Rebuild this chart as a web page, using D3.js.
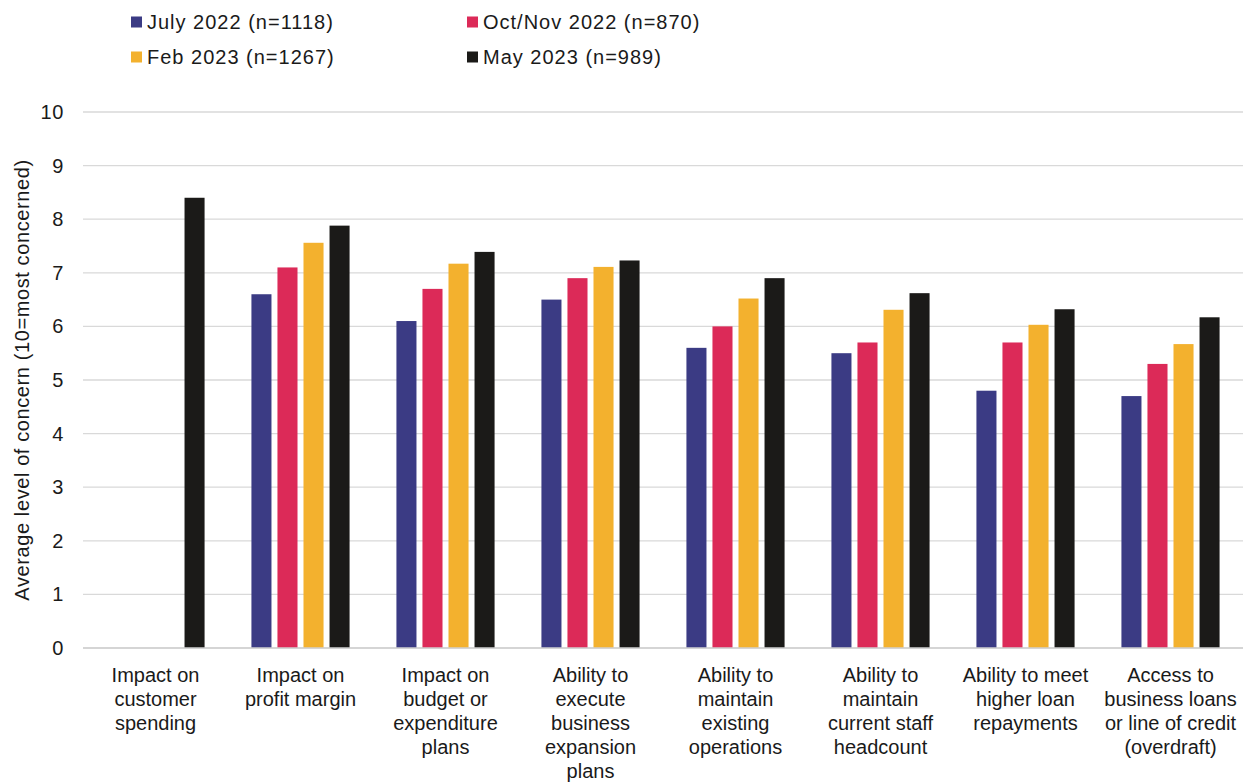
<!DOCTYPE html>
<html>
<head>
<meta charset="utf-8">
<script src="https://cdn.jsdelivr.net/npm/d3@7"></script>
<style>
  html, body { margin: 0; padding: 0; background: #fff; }
  svg text { font-family: "Liberation Sans", Arial, sans-serif; fill: #1a1a1a; }
</style>
</head>
<body>
<svg id="chart" width="1248" height="782"></svg>
<script>
// Concern categories (label lines as wrapped under the axis)
const categories = [
  ["Impact on", "customer", "spending"],
  ["Impact on", "profit margin"],
  ["Impact on", "budget or", "expenditure", "plans"],
  ["Ability to", "execute", "business", "expansion", "plans"],
  ["Ability to", "maintain", "existing", "operations"],
  ["Ability to", "maintain", "current staff", "headcount"],
  ["Ability to meet", "higher loan", "repayments"],
  ["Access to", "business loans", "or line of credit", "(overdraft)"]
];

const seriesNames = ["July 2022 (n=1118)", "Oct/Nov 2022 (n=870)", "Feb 2023 (n=1267)", "May 2023 (n=989)"];
const seriesColors = ["#3b3b84", "#dc2a58", "#f3b12e", "#1b1a18"];

// Average level of concern per wave (null = not asked)
const july2022 = [null, 6.6, 6.1, 6.5, 5.6, 5.5, 4.8, 4.7];
const octNov2022 = [null, 7.1, 6.7, 6.9, 6.0, 5.7, 5.7, 5.3];
const feb2023 = [null, 7.56, 7.17, 7.11, 6.52, 6.31, 6.03, 5.67];
const may2023 = [8.4, 7.88, 7.39, 7.23, 6.9, 6.62, 6.32, 6.17];

const yTicks = [0, 1, 2, 3, 4, 5, 6, 7, 8, 9, 10];

const seriesValues = [july2022, octNov2022, feb2023, may2023];

const svg = d3.select("#chart");
const margin = { left: 83, right: 5, top: 112, bottom: 134 };
const width = 1248, height = 782;
const fontSize = "20px";

const x0 = d3.scaleBand()
  .domain(d3.range(categories.length))
  .range([margin.left, width - margin.right])
  .paddingInner(0).paddingOuter(0);

const x1 = d3.scaleBand()
  .domain(d3.range(seriesNames.length))
  .range([0, x0.bandwidth()])
  .paddingInner(0.23)
  .paddingOuter(0.9);

const y = d3.scaleLinear()
  .domain([0, 10])
  .range([height - margin.bottom, margin.top]);

// Gridlines
svg.append("g")
  .selectAll("line")
  .data(yTicks)
  .join("line")
  .attr("x1", margin.left)
  .attr("x2", width - margin.right)
  .attr("y1", d => y(d))
  .attr("y2", d => y(d))
  .attr("stroke", "#d9d9d9")
  .attr("stroke-width", 1.3);

// Y axis tick labels
const yAxis = d3.axisLeft(y).tickValues(yTicks).tickSize(0).tickPadding(19);
const yg = svg.append("g")
  .attr("transform", `translate(${margin.left},0)`)
  .call(yAxis);
yg.select(".domain").remove();
yg.selectAll("text")
  .style("font-family", '"Liberation Sans", Arial, sans-serif')
  .style("font-size", fontSize)
  .style("letter-spacing", "0.6px")
  .attr("fill", "#1a1a1a");

// Y axis title
svg.append("text")
  .attr("transform", `translate(22, 380) rotate(-90)`)
  .attr("text-anchor", "middle")
  .attr("dy", "0.35em")
  .style("font-size", fontSize)
  .style("letter-spacing", "0.6px")
  .text("Average level of concern (10=most concerned)");

// Bars
const groups = svg.append("g")
  .selectAll("g")
  .data(categories.map((c, i) => i))
  .join("g")
  .attr("transform", i => `translate(${x0(i)},0)`);

groups.selectAll("rect")
  .data(i => seriesValues.map((vals, s) => ({ s, v: vals[i] })).filter(d => d.v !== null))
  .join("rect")
  .attr("x", d => x1(d.s))
  .attr("width", x1.bandwidth())
  .attr("y", d => y(d.v))
  .attr("height", d => y(0) - y(d.v))
  .attr("fill", d => seriesColors[d.s]);

// Baseline
svg.append("line")
  .attr("x1", margin.left)
  .attr("x2", width - margin.right)
  .attr("y1", y(0))
  .attr("y2", y(0))
  .attr("stroke", "#d0d0d0")
  .attr("stroke-width", 1.3);

// Category labels
const xLabels = svg.append("g")
  .selectAll("text")
  .data(categories)
  .join("text")
  .attr("text-anchor", "middle")
  .style("font-size", fontSize)
  .attr("x", (d, i) => x0(i) + x0.bandwidth() / 2)
  .attr("y", 682);
xLabels.selectAll("tspan")
  .data(d => d)
  .join("tspan")
  .attr("x", function () { return d3.select(this.parentNode).attr("x"); })
  .attr("dy", (d, i) => i === 0 ? 0 : 24)
  .text(d => d);

// Legend
const legendPos = [
  { x: 131, y: 22 }, { x: 467, y: 22 },
  { x: 131, y: 57 }, { x: 467, y: 57 }
];
const legend = svg.append("g")
  .selectAll("g")
  .data(seriesNames)
  .join("g")
  .attr("transform", (d, i) => `translate(${legendPos[i].x},${legendPos[i].y})`);
legend.append("rect")
  .attr("x", 0).attr("y", -5.5)
  .attr("width", 11).attr("height", 11)
  .attr("fill", (d, i) => seriesColors[i]);
legend.append("text")
  .attr("x", 16)
  .attr("y", 7)
  .style("font-size", fontSize)
  .style("letter-spacing", "1px")
  .text(d => d);
</script>
</body>
</html>
